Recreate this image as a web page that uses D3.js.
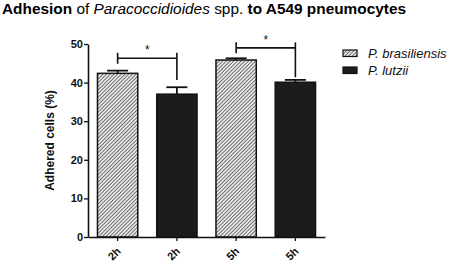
<!DOCTYPE html>
<html>
<head>
<meta charset="utf-8">
<script src="https://cdn.jsdelivr.net/npm/d3@7"></script>
<style>
  body { margin: 0; background: #fff; }
  text { font-family: "Liberation Sans", Arial, sans-serif; }
</style>
</head>
<body>
<div id="chart"></div>
<script>
// Data
const categories = ["2h", "2h", "5h", "5h"];
const species = ["P. brasiliensis", "P. lutzii", "P. brasiliensis", "P. lutzii"];
const means = [42.4, 37.0, 45.85, 40.1];
const errors = [0.7, 1.8, 0.45, 0.6];
const yTicks = [0, 10, 20, 30, 40, 50];
const legendLabels = ["P. brasiliensis", "P. lutzii"];
// significance brackets: bar indexes, bracket height and right leg end (in %)
const brackets = [
  { from: 0, to: 1, level: 46.3, rightEnd: 40.7, label: "*" },
  { from: 2, to: 3, level: 49.0, rightEnd: 41.4, label: "*" }
];

const width = 454, height = 265;
const margin = { top: 44, left: 88, right: 129, bottom: 28 };

const svg = d3.select("#chart")
  .append("svg")
  .attr("width", width)
  .attr("height", height);

// hatch pattern for P. brasiliensis
const defs = svg.append("defs");
defs.append("pattern")
  .attr("id", "hatch")
  .attr("patternUnits", "userSpaceOnUse")
  .attr("width", 2.6)
  .attr("height", 2.6)
  .attr("patternTransform", "rotate(45)")
  .call(p => {
    p.append("rect").attr("width", 2.6).attr("height", 2.6).attr("fill", "#e6e6e6");
    p.append("line")
      .attr("x1", 0).attr("y1", 0).attr("x2", 0).attr("y2", 2.6)
      .attr("stroke", "#3a3a3a").attr("stroke-width", 1.3);
  });

const fillFor = s => s === "P. brasiliensis" ? "url(#hatch)" : "#1c1c1c";

const x = d3.scaleBand()
  .domain(d3.range(categories.length))
  .range([margin.left, width - margin.right])
  .paddingInner(0.32)
  .paddingOuter(0.16);

const y = d3.scaleLinear()
  .domain([0, 50])
  .range([height - margin.bottom, margin.top]);

// title
const title = svg.append("text")
  .attr("x", 2)
  .attr("y", 14)
  .style("font-size", "15.4px");
title.append("tspan").attr("font-weight", "bold").text("Adhesion");
title.append("tspan").text(" of ");
title.append("tspan").attr("font-style", "italic").text("Paracoccidioides");
title.append("tspan").text(" spp. ");
title.append("tspan").attr("font-weight", "bold").text("to A549 pneumocytes");

// bars
const bars = svg.append("g");
bars.selectAll("rect")
  .data(means)
  .join("rect")
  .attr("x", (d, i) => x(i))
  .attr("y", d => y(d))
  .attr("width", x.bandwidth())
  .attr("height", d => y(0) - y(d))
  .attr("fill", (d, i) => fillFor(species[i]))
  .attr("stroke", "#111")
  .attr("stroke-width", 1.5);

// error bars (upper only)
const capW = 21;
const err = svg.append("g").attr("stroke", "#111").attr("stroke-width", 1.8);
means.forEach((m, i) => {
  const cx = x(i) + x.bandwidth() / 2;
  err.append("line")
    .attr("x1", cx).attr("x2", cx)
    .attr("y1", y(m)).attr("y2", y(m + errors[i]));
  err.append("line")
    .attr("x1", cx - capW / 2).attr("x2", cx + capW / 2)
    .attr("y1", y(m + errors[i])).attr("y2", y(m + errors[i]));
});

// axes
const yAxis = svg.append("g")
  .attr("transform", `translate(${margin.left},0)`)
  .call(d3.axisLeft(y).tickValues(yTicks).tickSize(4).tickPadding(1).tickSizeOuter(0));

const xAxis = svg.append("g")
  .attr("transform", `translate(0,${y(0)})`)
  .call(d3.axisBottom(x).tickSize(4).tickSizeOuter(0).tickFormat(i => categories[i]));

[yAxis, xAxis].forEach(a => {
  a.select(".domain").attr("stroke", "#111").attr("stroke-width", 1.6);
  a.selectAll(".tick line").attr("stroke", "#111").attr("stroke-width", 1.3);
  a.selectAll("text")
    .attr("fill", "#111")
    .style("font-size", "11px")
    .style("font-weight", "bold");
});

xAxis.selectAll(".tick text")
  .attr("text-anchor", "end")
  .attr("dy", null)
  .attr("y", 0)
  .attr("transform", "translate(4,15) rotate(-45)");

// y label
svg.append("text")
  .attr("transform", `translate(54,${(y(0) + y(50)) / 2}) rotate(-90)`)
  .attr("text-anchor", "middle")
  .style("font-size", "12px")
  .style("font-weight", "bold")
  .attr("fill", "#111")
  .text("Adhered cells (%)");

// significance brackets
const legH = 5.5;
const br = svg.append("g").attr("stroke", "#111").attr("stroke-width", 1.6);
brackets.forEach(b => {
  const x1 = x(b.from) + x.bandwidth() / 2;
  const x2 = x(b.to) + x.bandwidth() / 2;
  const yy = y(b.level);
  br.append("line").attr("x1", x1).attr("x2", x2).attr("y1", yy).attr("y2", yy);
  br.append("line").attr("x1", x1).attr("x2", x1).attr("y1", yy - legH).attr("y2", yy + legH);
  br.append("line").attr("x1", x2).attr("x2", x2).attr("y1", yy - legH).attr("y2", y(b.rightEnd));
  svg.append("text")
    .attr("x", (x1 + x2) / 2)
    .attr("y", yy - 4)
    .attr("text-anchor", "middle")
    .style("font-size", "12px")
    .attr("fill", "#111")
    .text(b.label);
});

// legend
const legend = svg.append("g").attr("transform", "translate(343,50)");
legendLabels.forEach((l, i) => {
  const g = legend.append("g").attr("transform", `translate(0,${i * 17})`);
  g.append("rect")
    .attr("width", 14).attr("height", 6.5)
    .attr("fill", fillFor(l))
    .attr("stroke", "#111").attr("stroke-width", 1.2);
  g.append("text")
    .attr("x", 25).attr("y", 8)
    .style("font-size", "13px")
    .style("font-style", "italic")
    .attr("fill", "#111")
    .text(l);
});
</script>
</body>
</html>
